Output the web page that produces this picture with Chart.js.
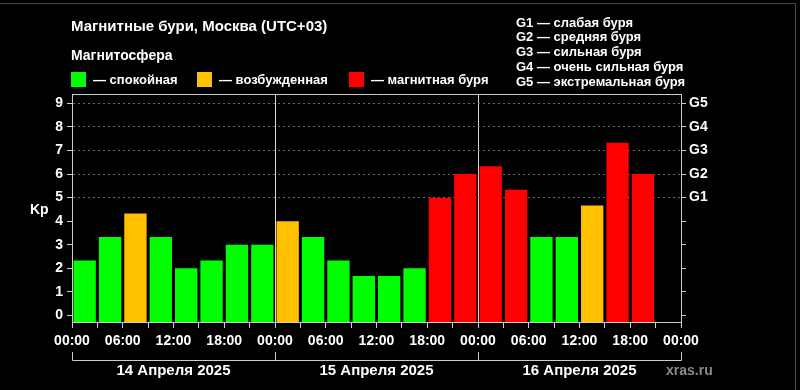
<html>
    <head>
        <meta http-equiv="content-type" content="text/html; charset=UTF-8">
        <script src="https://cdn.jsdelivr.net/npm/chart.js"></script>
        <title>Магнитные бури, Москва</title>
        <style>
            body { margin: 0; background: #000; }
        </style>
    </head>
    <body>
        <canvas id="kp" width="800" height="390"></canvas>

        <script>
            // Kp index, one value per 3-hour slot starting 14.04 00:00
            const kpValues = [2.33, 3.33, 4.33, 3.33, 2.0, 2.33, 3.0, 3.0,
                              4.0, 3.33, 2.33, 1.67, 1.67, 2.0, 5.0, 6.0,
                              6.33, 5.33, 3.33, 3.33, 4.67, 7.33, 6.0];
            const days = ['14 Апреля 2025', '15 Апреля 2025', '16 Апреля 2025'];
            const levelNames = ['спокойная', 'возбужденная', 'магнитная буря'];
            const levelColors = ['#00ff00', '#ffc000', '#ff0000'];
            const gTicks = ['G1', 'G2', 'G3', 'G4', 'G5'];   // Kp 5..9
            const gNotes = ['G1 — слабая буря', 'G2 — средняя буря', 'G3 — сильная буря',
                            'G4 — очень сильная буря', 'G5 — экстремальная буря'];
            const title = 'Магнитные бури, Москва (UTC+03)';

            const slotHours = 3;
            const yMin = -0.28, yMax = 9.4;
            const FONT = '"Liberation Sans", Arial, sans-serif';

            function levelOf(v) {
                if (v >= 5) return 2;
                if (v >= 4) return 1;
                return 0;
            }

            const points = kpValues.map((v, i) => ({x: i * slotHours + slotHours / 2, y: v}));

            const decor = {
                id: 'decor',
                afterDraw(chart) {
                    const ctx = chart.ctx;
                    const area = chart.chartArea;
                    const x = chart.scales.x;
                    ctx.save();

                    // screenshot frame
                    ctx.strokeStyle = '#4a4a4a';
                    ctx.lineWidth = 1;
                    ctx.beginPath();
                    ctx.moveTo(0, 3.5); ctx.lineTo(795.5, 3.5); ctx.lineTo(795.5, 390);
                    ctx.stroke();

                    // top edge of plot
                    ctx.strokeStyle = '#cccccc';
                    ctx.beginPath();
                    ctx.moveTo(area.left, area.top + 0.5);
                    ctx.lineTo(area.right, area.top + 0.5);
                    ctx.stroke();

                    ctx.fillStyle = '#fff';
                    ctx.textBaseline = 'middle';
                    ctx.textAlign = 'left';
                    ctx.font = 'bold 15px ' + FONT;
                    ctx.fillText(title, 71, 27);
                    ctx.font = 'bold 14px ' + FONT;
                    ctx.fillText('Магнитосфера', 71, 56);

                    // legend
                    const legendX = [71, 197, 349];
                    ctx.font = 'bold 13px ' + FONT;
                    levelNames.forEach((name, i) => {
                        ctx.fillStyle = levelColors[i];
                        ctx.fillRect(legendX[i], 72, 15, 15);
                        ctx.fillStyle = '#fff';
                        ctx.fillText('— ' + name, legendX[i] + 22, 80);
                    });

                    gNotes.forEach((t, i) => {
                        ctx.fillText(t, 516, 23 + i * 14.8);
                    });

                    ctx.font = 'bold 14px ' + FONT;
                    ctx.fillText('Kp', 30, 210);

                    // day brackets
                    ctx.strokeStyle = '#cccccc';
                    const x0 = Math.round(x.getPixelForValue(0)) + 0.5;
                    const x3 = Math.round(x.getPixelForValue(72)) + 0.5;
                    ctx.beginPath();
                    ctx.moveTo(x0, 360.5); ctx.lineTo(x3, 360.5);
                    for (let d = 0; d <= days.length; d++) {
                        const px = Math.round(x.getPixelForValue(d * 24)) + 0.5;
                        ctx.moveTo(px, 352); ctx.lineTo(px, 360.5);
                    }
                    ctx.stroke();

                    ctx.textAlign = 'center';
                    ctx.font = 'bold 15px ' + FONT;
                    days.forEach((d, i) => {
                        ctx.fillText(d, x.getPixelForValue(i * 24 + 12), 371);
                    });

                    ctx.textAlign = 'left';
                    ctx.fillStyle = '#8a8a8a';
                    ctx.font = 'bold 14px ' + FONT;
                    ctx.fillText('xras.ru', 666, 371);
                    ctx.restore();
                }
            };

            Chart.defaults.font.family = FONT;
            Chart.defaults.font.weight = 'bold';
            Chart.defaults.font.size = 14;
            Chart.defaults.color = '#fff';

            const pad2 = (n) => (n < 10 ? '0' : '') + n;

            var chart = new Chart(document.getElementById('kp'), {
                type: 'bar',
                data: {
                    datasets: [{
                        data: points,
                        base: yMin,
                        backgroundColor: kpValues.map(v => levelColors[levelOf(v)]),
                        borderWidth: 0,
                        barPercentage: 0.88,
                        categoryPercentage: 1.0
                    }]
                },
                options: {
                    responsive: false,
                    animation: false,
                    layout: { padding: { top: 94, left: 0, right: 0, bottom: 0 } },
                    plugins: { legend: { display: false }, tooltip: { enabled: false } },
                    scales: {
                        x: {
                            type: 'linear',
                            min: 0,
                            max: 72,
                            offset: false,
                            afterFit: (s) => { s.height = 68; },
                            ticks: {
                                stepSize: slotHours,
                                autoSkip: false,
                                maxRotation: 0,
                                includeBounds: false,
                                padding: 5,
                                callback: (v) => (v % 6 === 0 ? pad2(v % 24) + ':00' : '')
                            },
                            grid: {
                                offset: false,
                                color: (c) => (c.tick && c.tick.value % 24 === 0 && c.tick.value > 0 && c.tick.value < 72) ? '#d8d8d8' : 'rgba(0,0,0,0)',
                                tickColor: '#cccccc',
                                tickLength: 6
                            },
                            border: { color: '#cccccc' }
                        },
                        y: {
                            min: yMin,
                            max: yMax,
                            afterFit: (s) => { s.width = 72; },
                            ticks: { stepSize: 1, includeBounds: false, padding: 4 },
                            grid: {
                                color: (c) => (c.tick && c.tick.value >= 5) ? '#6a6a6a' : 'rgba(0,0,0,0)',
                                tickColor: '#cccccc',
                                tickLength: 5
                            },
                            border: { color: '#cccccc', dash: [2, 3] }
                        },
                        y2: {
                            position: 'right',
                            min: yMin,
                            max: yMax,
                            afterFit: (s) => { s.width = 119; },
                            ticks: {
                                stepSize: 1,
                                includeBounds: false,
                                padding: 3,
                                callback: (v) => (v >= 5 ? gTicks[v - 5] : '')
                            },
                            grid: {
                                drawOnChartArea: false,
                                tickColor: '#cccccc',
                                tickLength: 5
                            },
                            border: { color: '#cccccc' }
                        }
                    }
                },
                plugins: [decor]
            });
        </script>
    </body>
</html>
